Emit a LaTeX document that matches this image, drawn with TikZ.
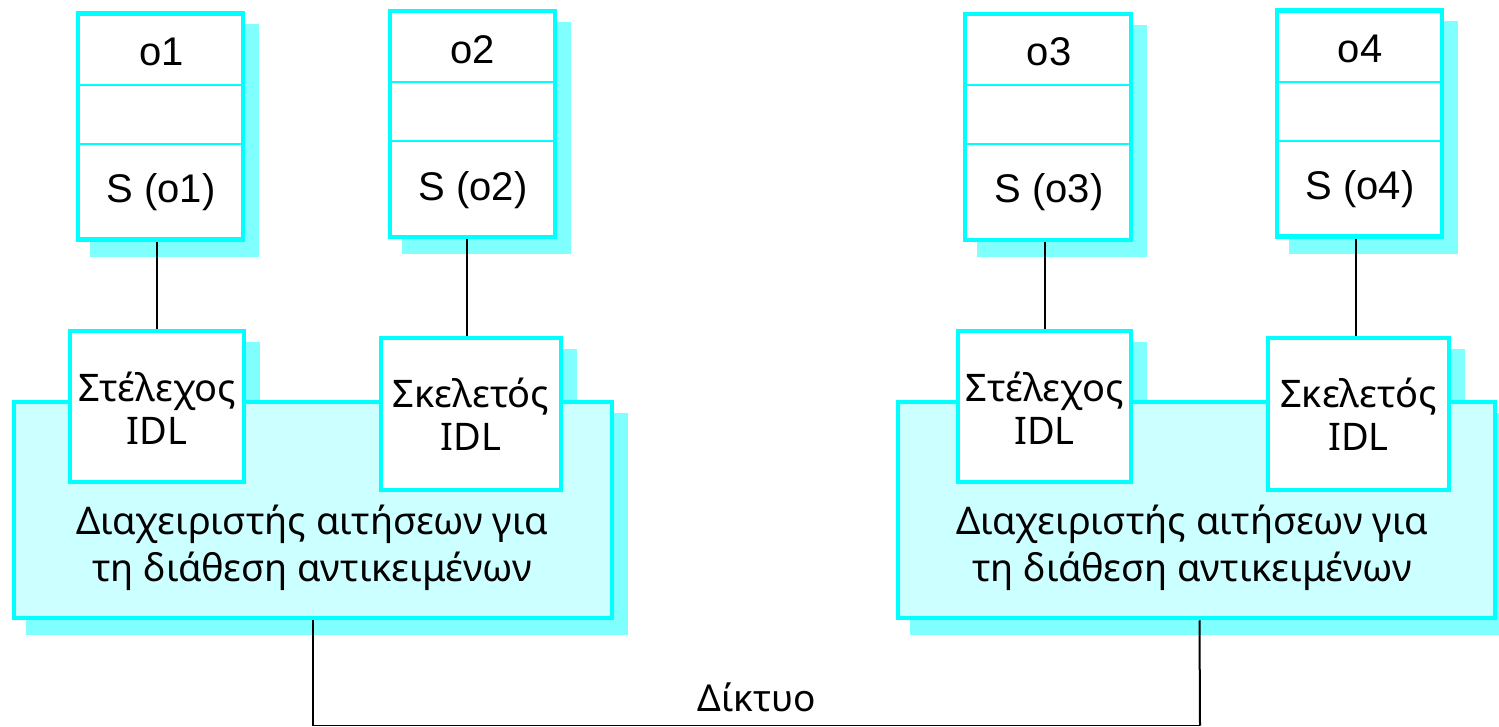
\documentclass[tikz,border=0pt]{standalone}
\usepackage{fontspec}
\setmainfont{Liberation Sans}
\newfontfamily\grfont{Noto Sans}
\usetikzlibrary{calc}
\definecolor{cyanline}{HTML}{00FFFF}
\definecolor{shadowcol}{HTML}{80FFFF}
\definecolor{mgrfill}{HTML}{CCFFFF}
\pgfdeclarelayer{back}
\pgfdeclarelayer{mid}
\pgfsetlayers{back,mid,main}
\begin{document}
\begin{tikzpicture}[x=1pt,y=-1pt,
  objbox/.style={rectangle, draw=cyanline, line width=4.5pt, fill=white, inner sep=0pt,
    minimum width=165pt, minimum height=226pt},
  idlbox/.style={rectangle, draw=cyanline, line width=4.5pt, fill=white, inner sep=0pt,
    minimum height=151pt},
  mgrbox/.style={rectangle, draw=cyanline, line width=4.5pt, fill=mgrfill, inner sep=0pt,
    minimum width=598pt, minimum height=216pt},
  divider/.style={draw=cyanline, line width=2pt},
  shadowfill/.style={fill=shadowcol},
  objtext/.style={font=\fontsize{40}{44}\selectfont, inner sep=0pt},
  idltext/.style={font=\grfont\fontsize{38}{43}\selectfont, align=center, inner sep=0pt},
  mgrtext/.style={font=\grfont\fontsize{38}{47}\selectfont, align=center, inner sep=0pt},
  conn/.style={draw=black, line width=2pt},
  net/.style={draw=black, line width=1.2pt}
]
\useasboundingbox (0,0) rectangle (1499,727);
\clip (0,0) rectangle (1499,727);

% ---------- managers ----------
\begin{pgfonlayer}{mid}
\node[mgrbox] (man1) at (313,510) {};
\node[mgrbox, minimum width=597pt] (man2) at (1196.5,510) {};
\end{pgfonlayer}
\node[mgrtext] (mt1) at (312,548) {Διαχειριστής αιτήσεων για\\τη διάθεση αντικειμένων};
\node[mgrtext] (mt2) at (1192,548) {Διαχειριστής αιτήσεων για\\τη διάθεση αντικειμένων};

% ---------- object boxes ----------
\node[objbox] (o1) at (160.5,126.5) {};
\node[objbox] (o2) at (472.5,124) {};
\node[objbox, minimum width=166pt] (o3) at (1048,127) {};
\node[objbox] (o4) at (1359.5,123.5) {};

\foreach \o/\a/\b in {o1/85/144, o2/82/141, o3/85/144, o4/82/141}{
  \draw[divider] (\o.west |- 0,\a) -- (\o.east |- 0,\a);
  \draw[divider] (\o.west |- 0,\b) -- (\o.east |- 0,\b);
}

\node[objtext] (n1) at (162,52) {o1};
\node[objtext] (s1) at (161,192) {S (o1)};
\node[objtext] (n2) at (473,50) {o2};
\node[objtext] (s2) at (473,190) {S (o2)};
\node[objtext] (n3) at (1049,52) {o3};
\node[objtext] (s3) at (1049,192) {S (o3)};
\node[objtext] (n4) at (1360,49) {o4};
\node[objtext] (s4) at (1360,189) {S (o4)};

% ---------- IDL boxes ----------
\node[idlbox, minimum width=174pt] (stub1) at (157,406.5) {};
\node[idlbox, minimum width=180pt, minimum height=152pt] (skel1) at (471,414) {};
\node[idlbox, minimum width=173pt] (stub2) at (1044.5,406.5) {};
\node[idlbox, minimum width=181pt, minimum height=152pt] (skel2) at (1358.5,414) {};

\node[idltext] (st1) at (157,408) {Στέλεχος\\IDL};
\node[idltext] (sk1) at (471,414) {Σκελετός\\IDL};
\node[idltext] (st2) at (1044.5,408) {Στέλεχος\\IDL};
\node[idltext] (sk2) at (1358.5,414) {Σκελετός\\IDL};

% ---------- shadows ----------
\begin{pgfonlayer}{back}
\foreach \n in {o1,o2,o3,o4,stub1,skel1,stub2,skel2,man1,man2}{
  \fill[shadowfill] ($(\n.north west)+(14,13)$) rectangle ($(\n.south east)+(14,15)$);
}
\end{pgfonlayer}

% ---------- connectors ----------
\draw[conn] (stub1.north) -- (stub1.north |- o1.south);
\draw[conn] ([xshift=-4pt]skel1.north) -- ([xshift=-4pt]skel1.north |- o2.south);
\draw[conn] (stub2.north) -- (stub2.north |- o3.south);
\draw[conn] ([xshift=-3pt]skel2.north) -- ([xshift=-3pt]skel2.north |- o4.south);

\coordinate (nl) at (313,725.5);
\coordinate (nr) at (1200,725.5);
\draw[conn] (man1.south) -- (nl);
\draw[conn] ([xshift=3pt]man2.south) -- (nr);
\draw[net] (nl) -- (nr);
\node[font=\grfont\fontsize{37}{40}\selectfont, inner sep=0pt] (net) at (757,697) {Δίκτυο};
\end{tikzpicture}
\end{document}
